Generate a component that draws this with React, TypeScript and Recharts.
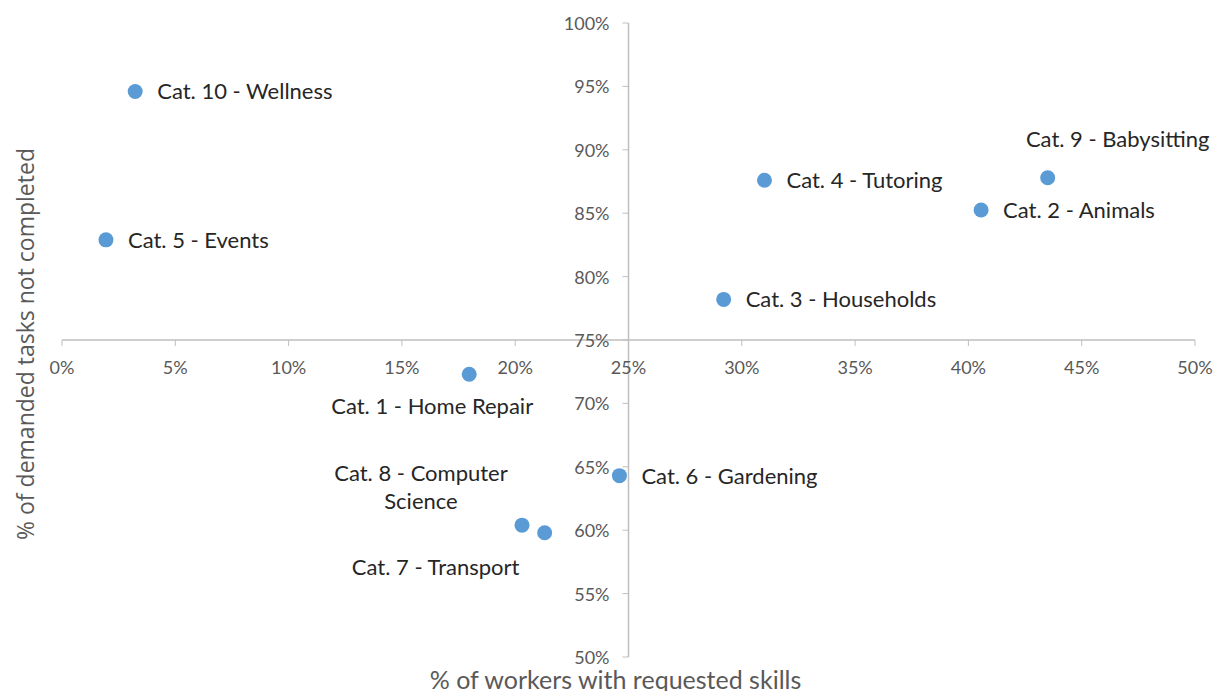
import React from "react";
import {
  ScatterChart,
  Scatter,
  XAxis,
  YAxis,
  ReferenceLine,
  ReferenceDot,
} from "recharts";

// values (percent)
const categories = [
  "Cat. 1 - Home Repair",
  "Cat. 2 - Animals",
  "Cat. 3 - Households",
  "Cat. 4 - Tutoring",
  "Cat. 5 - Events",
  "Cat. 6 - Gardening",
  "Cat. 7 - Transport",
  "Cat. 8 - Computer Science",
  "Cat. 9 - Babysitting",
  "Cat. 10 - Wellness",
];
const workersWithSkills = [17.97, 40.56, 29.2, 31.0, 1.94, 24.6, 21.3, 20.3, 43.5, 3.23];
const tasksNotCompleted = [72.3, 85.25, 78.2, 87.6, 82.9, 64.3, 59.8, 60.4, 87.8, 94.6];

const xTicks = [0, 5, 10, 15, 20, 25, 30, 35, 40, 45, 50];
const yTicks = [50, 55, 60, 65, 70, 75, 80, 85, 90, 95, 100];

const data = categories.map((name, i) => ({
  name,
  x: workersWithSkills[i],
  y: tasksNotCompleted[i],
}));

// where each data label sits relative to its dot (Excel default is right)
// dy = centre of the first line, breakAfter = words on the first line
const labelPlacement: Record<string, { dx: number; dy: number; anchor: "start" | "middle"; breakAfter?: number }> = {
  "Cat. 1 - Home Repair": { dx: -37, dy: 32, anchor: "middle" },
  "Cat. 7 - Transport": { dx: -109, dy: 34, anchor: "middle" },
  "Cat. 8 - Computer Science": { dx: -101, dy: -52, anchor: "middle", breakAfter: 4 },
  "Cat. 9 - Babysitting": { dx: 70, dy: -39, anchor: "middle" },
};

const AXIS = "#BFBFBF";
const TICK_TEXT = "#595959";
const DOT = "#5B9BD5";
const LABEL_FONT = "Lato, 'Open Sans', sans-serif";
const LABEL_SIZE = 22;

const PointWithLabel = (props: any) => {
  const { cx, cy, payload } = props;
  const p = labelPlacement[payload.name] || { dx: 22, dy: 0, anchor: "start" };
  const words = payload.name.split(" ");
  const lines = p.breakAfter
    ? [words.slice(0, p.breakAfter).join(" "), words.slice(p.breakAfter).join(" ")]
    : [payload.name];
  const x = cx + p.dx;
  return (
    <g>
      <circle cx={cx} cy={cy} r={7.5} fill={DOT} />
      <text
        x={x}
        y={cy + p.dy + LABEL_SIZE * 0.36}
        textAnchor={p.anchor}
        fontSize={LABEL_SIZE}
        fontFamily={LABEL_FONT}
        fill="#262626"
      >
        {lines.map((l, i) => (
          <tspan key={i} x={x} dy={i === 0 ? 0 : 28}>
            {l}
          </tspan>
        ))}
      </text>
    </g>
  );
};

const xTickShape = (label: string) => (props: any) => {
  const { cx, cy } = props;
  return (
    <g>
      <line x1={cx} y1={cy} x2={cx} y2={cy + 6} stroke={AXIS} />
      <text x={cx} y={cy + 27} textAnchor="middle" dominantBaseline="central" fontSize={18} fontFamily={LABEL_FONT} fill={TICK_TEXT}>
        {label}
      </text>
    </g>
  );
};

const yTickShape = (label: string) => (props: any) => {
  const { cx, cy } = props;
  return (
    <g>
      <line x1={cx - 6} y1={cy} x2={cx} y2={cy} stroke={AXIS} />
      <text x={cx - 19} y={cy} textAnchor="end" dominantBaseline="central" fontSize={18} fontFamily={LABEL_FONT} fill={TICK_TEXT}>
        {label}
      </text>
    </g>
  );
};

const YTitle = (props: any) => {
  const { viewBox } = props;
  const x = viewBox.x + 25;
  const y = viewBox.y + viewBox.height / 2 + 4;
  return (
    <text
      x={x}
      y={y}
      transform={`rotate(-90, ${x}, ${y})`}
      textAnchor="middle"
      dominantBaseline="central"
      fontSize={23}
      fontFamily="'Open Sans', sans-serif"
      fill={TICK_TEXT}
    >
      % of demanded tasks not completed
    </text>
  );
};

const XTitle = (props: any) => {
  const { viewBox } = props;
  const x = viewBox.x + viewBox.width / 2 - 13;
  const y = viewBox.y + viewBox.height - 2;
  return (
    <text x={x} y={y} textAnchor="middle" fontSize={25} fontFamily={LABEL_FONT} fill={TICK_TEXT}>
      % of workers with requested skills
    </text>
  );
};

export default function App() {
  return (
    <div style={{ position: "absolute", left: 0, top: 0, background: "#fff" }}>
      <ScatterChart width={1214} height={691} margin={{ top: 23, right: 19, bottom: 0, left: 0 }}>
        <XAxis
          type="number"
          dataKey="x"
          domain={[0, 50]}
          height={34}
          axisLine={false}
          tickLine={false}
          tick={false}
          label={{ content: XTitle }}
        />
        <YAxis
          type="number"
          dataKey="y"
          domain={[50, 100]}
          width={62}
          axisLine={false}
          tickLine={false}
          tick={false}
          label={{ content: YTitle }}
        />
        <ReferenceLine x={25} stroke={AXIS} strokeWidth={1.5} />
        <ReferenceLine y={75} stroke={AXIS} strokeWidth={1.5} />
        {xTicks.map((v) => (
          <ReferenceDot key={`x${v}`} x={v} y={75} ifOverflow="visible" shape={xTickShape(`${v}%`)} />
        ))}
        {yTicks.map((v) => (
          <ReferenceDot key={`y${v}`} x={25} y={v} ifOverflow="visible" shape={yTickShape(`${v}%`)} />
        ))}
        <Scatter data={data} shape={PointWithLabel} isAnimationActive={false} />
      </ScatterChart>
    </div>
  );
}
